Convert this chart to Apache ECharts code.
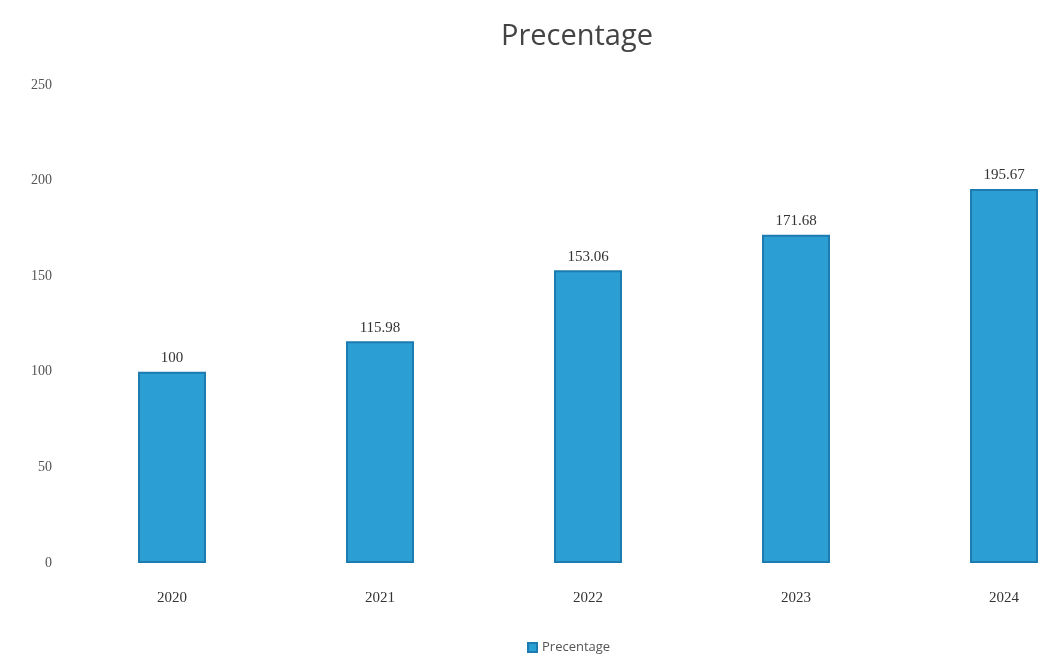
<!DOCTYPE html>
<html>
<head>
<meta charset="utf-8">
<script src="https://cdn.jsdelivr.net/npm/echarts@6/dist/echarts.min.js"></script>
<style>
  html, body { margin: 0; padding: 0; background: #ffffff; }
  #chart { width: 1044px; height: 663px; }
</style>
</head>
<body>
<div id="chart"></div>
<script>
// Yearly percentage index
const years = ['2020', '2021', '2022', '2023', '2024'];
const percentage = [100, 115.98, 153.06, 171.68, 195.67];
const yTicks = [0, 50, 100, 150, 200, 250];

const chart = echarts.init(document.getElementById('chart'));
chart.setOption({
  animation: false,
  backgroundColor: '#ffffff',
  title: {
    text: 'Precentage',
    left: 572,
    textAlign: 'center',
    top: 17,
    textStyle: { fontFamily: 'Open Sans', fontSize: 29, fontWeight: 'normal', color: '#444' }
  },
  legend: {
    data: ['Precentage'],
    bottom: 4,
    left: 522,
    itemWidth: 9,
    itemHeight: 9,
    icon: 'rect',
    textStyle: { fontFamily: 'Open Sans', fontSize: 13, color: '#555' }
  },
  grid: { left: 68, top: 85, width: 1040, bottom: 100, outerBoundsMode: 'none', containLabel: false },
  xAxis: {
    type: 'category',
    data: years,
    axisLine: { show: false },
    axisTick: { show: false },
    axisLabel: { margin: 28, fontFamily: 'Liberation Serif', fontSize: 15, color: '#333' }
  },
  yAxis: {
    type: 'value',
    min: yTicks[0],
    max: yTicks[yTicks.length - 1],
    interval: 50,
    splitLine: { show: false },
    axisLine: { show: false },
    axisTick: { show: false },
    axisLabel: { margin: 16, fontFamily: 'Liberation Serif', fontSize: 14, color: '#555' }
  },
  series: [{
    name: 'Precentage',
    type: 'bar',
    data: percentage,
    barWidth: 68,
    itemStyle: { color: '#2b9ed3', borderColor: '#1d7bb0', borderWidth: 2 },
    label: {
      show: true,
      position: 'top',
      distance: 6,
      fontFamily: 'Liberation Serif',
      fontSize: 15,
      color: '#333'
    }
  }]
});
</script>
</body>
</html>
